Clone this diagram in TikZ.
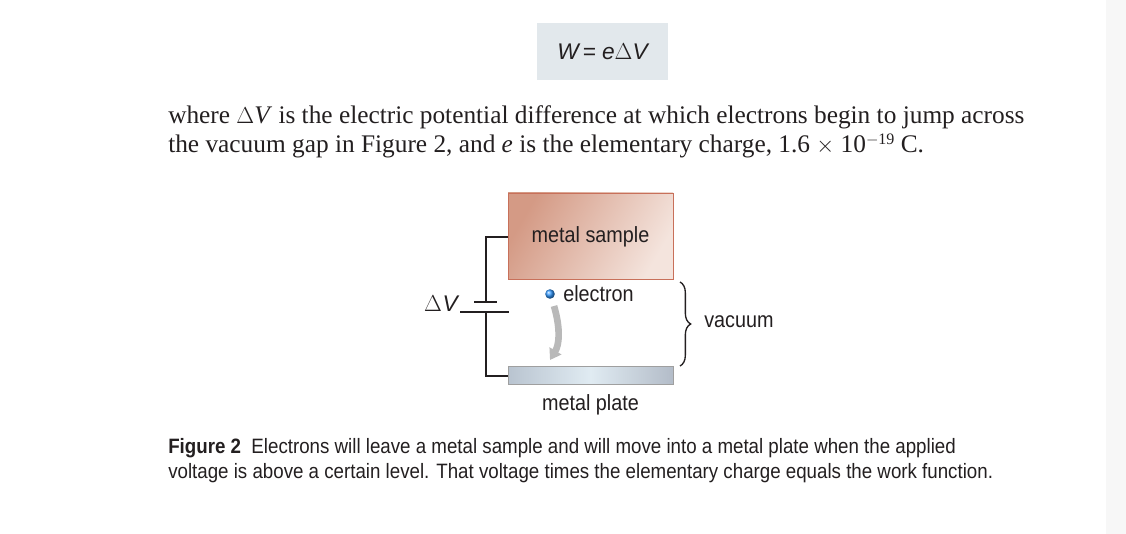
\documentclass[tikz,border=0pt]{standalone}
\usepackage{fontspec}
\setmainfont{Liberation Serif}
\setsansfont{Liberation Sans}
\newfontfamily\condsans[FakeStretch=0.9]{Liberation Sans}
\usetikzlibrary{decorations.pathreplacing,arrows.meta}
\definecolor{eqbg}{HTML}{E2E8EC}
\definecolor{ink}{HTML}{231F20}
\definecolor{msL}{HTML}{D49A85}
\definecolor{msR}{HTML}{F4E4DD}
\definecolor{msB}{HTML}{C8705A}
\definecolor{mpL}{HTML}{B9C4D0}
\definecolor{mpM}{HTML}{E0EBF2}
\definecolor{mpR}{HTML}{B3BCC8}
\tikzset{
  wire/.style={draw=ink, line width=1.1pt},
  lbl/.style={font=\condsans\fontsize{16.5}{18}\selectfont, text=ink, inner sep=0pt},
  body/.style={font=\fontsize{19}{22}\selectfont, text=ink, inner sep=0pt, align=left},
  captext/.style={font=\condsans\fontsize{15.6}{18.75}\selectfont, text=ink, inner sep=0pt, align=left},
}
\begin{document}
\begin{tikzpicture}[x=0.75pt,y=-0.75pt]
\useasboundingbox (0,0) rectangle (1126,534);
\fill[white] (0,0) rectangle (1126,534);
\fill[gray!6] (1106,0) rectangle (1126,534);
% equation
\node[fill=eqbg, minimum width=131*0.75pt, minimum height=57*0.75pt, inner sep=0pt,
  font=\sffamily\itshape\fontsize{17}{18}\selectfont, text=ink] (eq) at (602.5,51.5) {W\,=\ e$\Delta$V};
% paragraph
\node[body, anchor=base west] (p) at (168,153) {where $\Delta$\textit{V} is the electric potential difference at which electrons begin to jump across\\the vacuum gap in Figure 2, and \textit{e} is the elementary charge, 1.6 $\times$ 10\raisebox{6.5pt}{\fontsize{12}{12}\selectfont$-$19} C.};
% metal sample
\shade[left color=msL, right color=msR, shading angle=60] (508,193) rectangle (673,279);
\draw[draw=msB, line width=0.6pt] (508,193) rectangle (673,279);
\node[lbl] (ms) at (590.5,237) {metal sample};
\coordinate (msw) at (508,237);
% metal plate
\shade[left color=mpL, right color=mpR, middle color=mpM] (508,366) rectangle (673,384);
\draw[draw=gray!75, line width=0.6pt] (508,366) rectangle (673,384);
\coordinate (mpw) at (508,376);
\node[lbl] (mp) at (590.5,405) {metal plate};
% circuit
\coordinate (bt) at (486,302);
\coordinate (bb) at (486,312);
\draw[wire] (msw) -| (bt);
\draw[wire] (474,302) -- (497,302);
\draw[wire] (460,312) -- (509,312);
\draw[wire] (bb) |- (mpw);
\node[font=\sffamily\itshape\fontsize{17}{18}\selectfont, text=ink, inner sep=0pt, anchor=base east] (dv) at (458,311) {$\Delta$\hspace{0.5pt}V};
% electron
\shade[ball color=cyan!50!blue!80] (550,294) circle (4.8*0.75pt);
\node[lbl, anchor=west] (el) at (563,294) {electron};
\draw[-{Triangle[length=8pt,width=10pt]}, line width=5pt, draw=gray!55] (554,306) .. controls (561,330) and (559,345) .. (550,360);
% brace
\draw[decorate, decoration={brace, amplitude=8pt}, wire, line width=1pt] (680,282) -- (680,366);
\node[lbl, anchor=west] (vac) at (704,322) {vacuum};
% caption
\node[captext, anchor=base west] (c) at (168,478) {\textbf{Figure 2}\ \ Electrons will leave a metal sample and will move into a metal plate when the applied\\voltage is above a certain level. That voltage times the elementary charge equals the work function.};
\end{tikzpicture}
\end{document}
